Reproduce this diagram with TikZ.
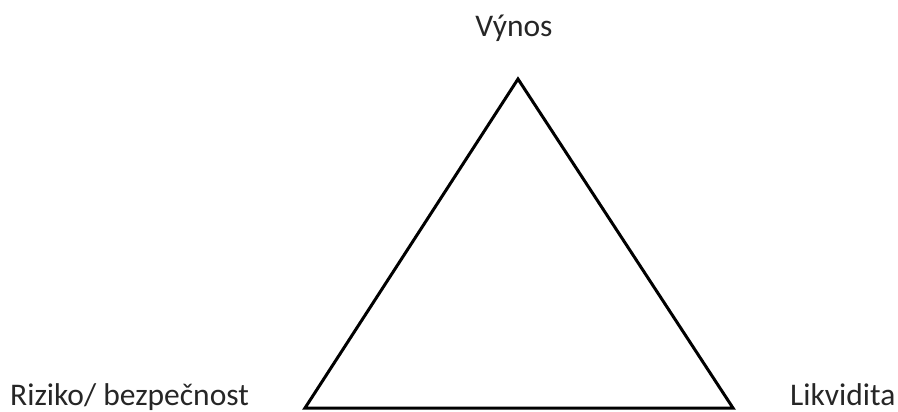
\documentclass[tikz,border=0pt]{standalone}
\usepackage{fontspec}
\setmainfont{Carlito}
\begin{document}
\begin{tikzpicture}[x=1pt,y=-1pt,
  lbl/.style={inner sep=0pt,anchor=base,font=\fontsize{31.5}{38}\selectfont,text=black!85}]
\useasboundingbox (0,0) rectangle (898,412);
\coordinate (top) at (518,79);
\coordinate (bl) at (305,408);
\coordinate (br) at (733,408);
\draw[line width=3pt,line join=miter] (top) -- (bl) -- (br) -- cycle;
\node[lbl] (vynos) at (514,37) {Výnos};
\node[lbl,anchor=base west] (riziko) at (10,405) {Riziko/ bezpečnost};
\node[lbl,anchor=base west] (likv) at (790,405) {Likvidita};
\end{tikzpicture}
\end{document}
